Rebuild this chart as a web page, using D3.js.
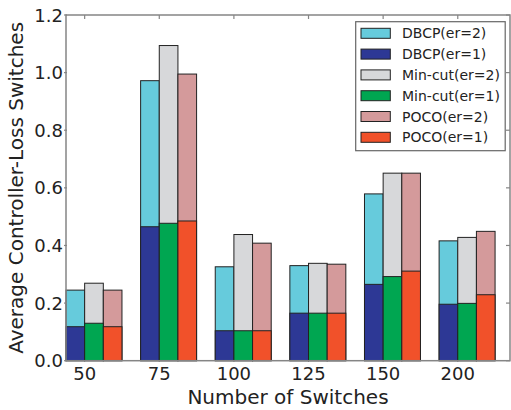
<!DOCTYPE html>
<html>
<head>
<meta charset="utf-8">
<script src="https://cdn.jsdelivr.net/npm/d3@7"></script>
<style>
  body { margin: 0; background: #fff; }
  svg { display: block; font-family: "DejaVu Sans", sans-serif; }
</style>
</head>
<body>
<div id="chart"></div>
<script>
// categories and values
const switches = ["50", "75", "100", "125", "150", "200"];
const dbcpEr2 = [0.245, 0.972, 0.326, 0.330, 0.579, 0.416];
const dbcpEr1 = [0.118, 0.465, 0.104, 0.165, 0.265, 0.196];
const mincutEr2 = [0.269, 1.094, 0.438, 0.338, 0.651, 0.428];
const mincutEr1 = [0.130, 0.477, 0.104, 0.165, 0.292, 0.199];
const pocoEr2 = [0.245, 0.995, 0.408, 0.335, 0.651, 0.449];
const pocoEr1 = [0.118, 0.485, 0.104, 0.165, 0.311, 0.229];
const yTicks = [0.0, 0.2, 0.4, 0.6, 0.8, 1.0, 1.2];

const series = [
  {name: "DBCP(er=2)", values: dbcpEr2, slot: 0, color: "#66cbdc"},
  {name: "DBCP(er=1)", values: dbcpEr1, slot: 0, color: "#2d3895"},
  {name: "Min-cut(er=2)", values: mincutEr2, slot: 1, color: "#d7d8da"},
  {name: "Min-cut(er=1)", values: mincutEr1, slot: 1, color: "#00a651"},
  {name: "POCO(er=2)", values: pocoEr2, slot: 2, color: "#d49a9b"},
  {name: "POCO(er=1)", values: pocoEr1, slot: 2, color: "#f1512a"}
];

const W = 511, H = 410;
const plot = {left: 66, right: 510, top: 15, bottom: 360.7};
const barW = 0.25;

const svg = d3.select("#chart").append("svg")
  .attr("width", W).attr("height", H);

// x is a linear scale in "group units", bars are 0.25 wide
const x = d3.scaleLinear().domain([0, 5.95]).range([plot.left, plot.right]);
const y = d3.scaleLinear().domain([0, 1.2]).range([plot.bottom, plot.top]);

// bars: er=2 first, er=1 drawn on top
const order = [0, 2, 4, 1, 3, 5];
order.forEach(k => {
  const s = series[k];
  svg.append("g")
    .selectAll("rect")
    .data(s.values)
    .enter()
    .append("rect")
    .attr("x", (d, i) => x(i + s.slot * barW))
    .attr("y", d => y(d))
    .attr("width", x(barW) - x(0))
    .attr("height", d => y(0) - y(d))
    .attr("fill", s.color)
    .attr("stroke", "#222")
    .attr("stroke-width", 1);
});

// spines
const spine = "#858585";
svg.append("rect")
  .attr("x", plot.left).attr("y", plot.top)
  .attr("width", plot.right - plot.left).attr("height", plot.bottom - plot.top)
  .attr("fill", "none").attr("stroke", spine).attr("stroke-width", 1.5);

// ticks (inward on top and right)
const tickPos = switches.map((d, i) => x(i + barW));
svg.append("g").selectAll("line").data(tickPos).enter().append("line")
  .attr("x1", d => d).attr("x2", d => d)
  .attr("y1", plot.top).attr("y2", plot.top + 4)
  .attr("stroke", spine).attr("stroke-width", 1.2);
svg.append("g").selectAll("line").data(yTicks).enter().append("line")
  .attr("x1", plot.right - 4).attr("x2", plot.right)
  .attr("y1", d => y(d)).attr("y2", d => y(d))
  .attr("stroke", spine).attr("stroke-width", 1.2);
svg.append("g").selectAll("line").data(yTicks).enter().append("line")
  .attr("x1", plot.left - 2).attr("x2", plot.left + 1)
  .attr("y1", d => y(d)).attr("y2", d => y(d))
  .attr("stroke", spine).attr("stroke-width", 1.2);

// tick labels
svg.append("g").selectAll("text").data(yTicks).enter().append("text")
  .attr("x", plot.left - 3)
  .attr("y", d => y(d))
  .attr("text-anchor", "end")
  .attr("dominant-baseline", "central")
  .attr("font-size", 18)
  .attr("fill", "#222")
  .text(d => d.toFixed(1));

svg.append("g").selectAll("text").data(switches).enter().append("text")
  .attr("x", (d, i) => x(i + barW))
  .attr("y", 379.5)
  .attr("text-anchor", "middle")
  .attr("font-size", 18)
  .attr("fill", "#222")
  .text(d => d);

// axis titles
svg.append("text")
  .attr("x", (plot.left + plot.right) / 2)
  .attr("y", 404)
  .attr("text-anchor", "middle")
  .attr("font-size", 20)
  .attr("fill", "#222")
  .text("Number of Switches");

svg.append("text")
  .attr("transform", "translate(23," + (plot.top + plot.bottom) / 2 + ") rotate(-90)")
  .attr("text-anchor", "middle")
  .attr("font-size", 20)
  .attr("fill", "#222")
  .text("Average Controller-Loss Switches");

// legend
const legend = svg.append("g");
legend.append("rect")
  .attr("x", 355.7).attr("y", 21.7)
  .attr("width", 149.5).attr("height", 129)
  .attr("fill", "#fff").attr("stroke", "#666").attr("stroke-width", 1.2);

const rows = legend.selectAll("g.row").data(series).enter().append("g")
  .attr("class", "row")
  .attr("transform", (d, i) => "translate(0," + (33.3 + i * 20.8) + ")");
rows.append("rect")
  .attr("x", 361).attr("y", -5)
  .attr("width", 29.3).attr("height", 10)
  .attr("fill", d => d.color)
  .attr("stroke", "#222").attr("stroke-width", 1);
rows.append("text")
  .attr("x", 402)
  .attr("y", 0)
  .attr("dominant-baseline", "central")
  .attr("font-size", 14)
  .attr("fill", "#222")
  .text(d => d.name);
</script>
</body>
</html>
